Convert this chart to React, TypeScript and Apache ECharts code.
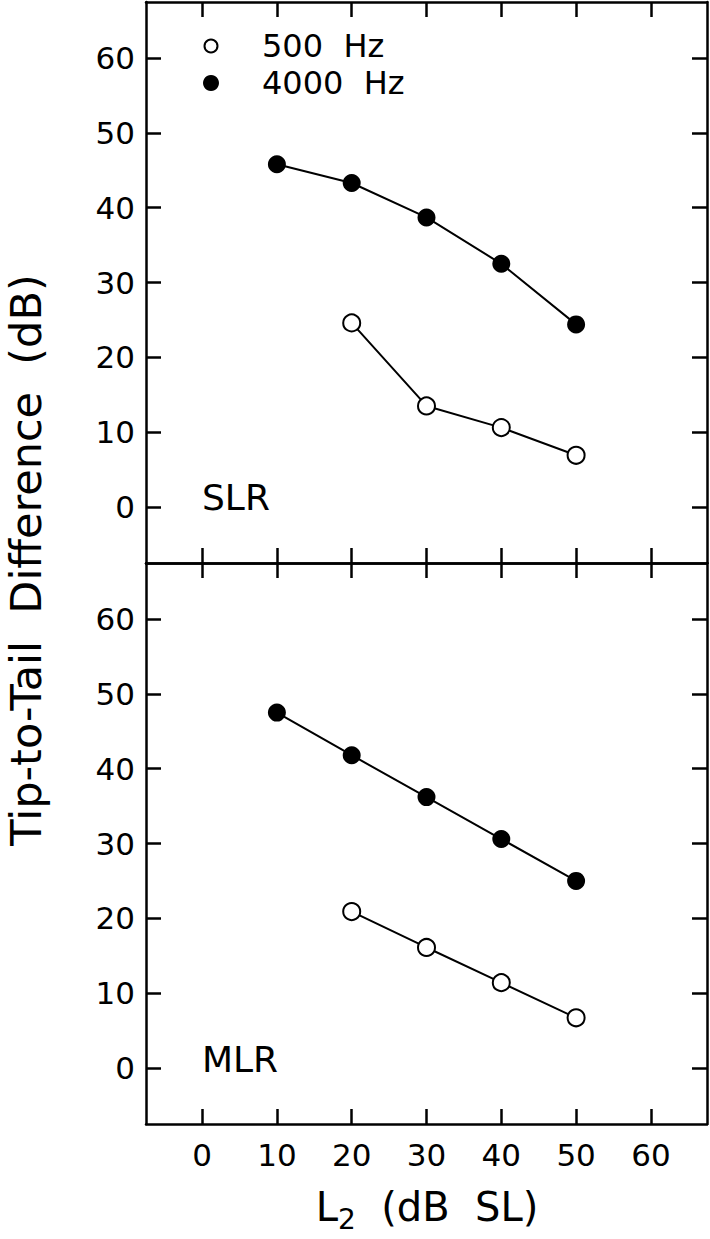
import React, { useEffect, useRef } from "react";
import * as echarts from "echarts";

const TICKS = [0, 10, 20, 30, 40, 50, 60];
const X_L2 = [10, 20, 30, 40, 50];
const X_L2_500 = [20, 30, 40, 50];
const SLR_4000 = [45.8, 43.3, 38.7, 32.5, 24.4];
const SLR_500 = [24.6, 13.5, 10.6, 6.9];
const MLR_4000 = [47.5, 41.8, 36.2, 30.6, 25.0];
const MLR_500 = [20.9, 16.1, 11.4, 6.7];
const PANEL_LABELS = ["SLR", "MLR"];
const LEGEND = ["500  Hz", "4000  Hz"];

const FONT = "DejaVu Sans";

function axis(position: string, gridIndex: number, showLabel: boolean) {
  return {
    type: "value",
    gridIndex,
    position,
    min: -7.5,
    max: 67.5,
    axisLine: { show: true, onZero: false, lineStyle: { color: "#000", width: 2.5 } },
    axisTick: {
      show: true,
      inside: true,
      length: 15,
      customValues: TICKS,
      lineStyle: { color: "#000", width: 2.5 },
    },
    axisLabel: {
      show: showLabel,
      customValues: TICKS,
      color: "#000",
      fontFamily: FONT,
      fontSize: 31,
      margin: position === "left" ? 11 : 15,
    },
    splitLine: { show: false },
  };
}

function pairs(xs: number[], ys: number[]) {
  return xs.map((x, i) => [x, ys[i]]);
}

function lineSeries(name: string, xi: number, yi: number, data: number[][], filled: boolean) {
  return {
    name,
    type: "line",
    xAxisIndex: xi,
    yAxisIndex: yi,
    data,
    symbol: "circle",
    symbolSize: filled ? 18 : 17,
    lineStyle: { color: "#000", width: 2 },
    itemStyle: filled
      ? { color: "#000", borderColor: "#000", borderWidth: 0 }
      : { color: "#fff", borderColor: "#000", borderWidth: 2 },
    z: 3,
  };
}

export default function App() {
  const ref = useRef<HTMLDivElement>(null);
  useEffect(() => {
    if (!ref.current) return;
    const chart = echarts.init(ref.current, undefined, { renderer: "svg" });
    chart.setOption({
      animation: false,
      backgroundColor: "#fff",
      grid: [
        { left: 146, top: 2, width: 561, height: 561 },
        { left: 146, top: 563, width: 561, height: 561 },
      ],
      xAxis: [
        axis("bottom", 0, false),
        axis("top", 0, false),
        axis("bottom", 1, true),
        axis("top", 1, false),
      ],
      yAxis: [
        axis("left", 0, true),
        axis("right", 0, false),
        axis("left", 1, true),
        axis("right", 1, false),
      ],
      series: [
        lineSeries("4000 Hz", 0, 0, pairs(X_L2, SLR_4000), true),
        lineSeries("500 Hz", 0, 0, pairs(X_L2_500, SLR_500), false),
        lineSeries("4000 Hz", 2, 2, pairs(X_L2, MLR_4000), true),
        lineSeries("500 Hz", 2, 2, pairs(X_L2_500, MLR_500), false),
      ],
      graphic: [
        { type: "circle", shape: { cx: 211, cy: 46, r: 6.5 }, style: { fill: "#fff", stroke: "#000", lineWidth: 2 } },
        { type: "circle", shape: { cx: 211, cy: 83, r: 8 }, style: { fill: "#000" } },
        {
          type: "text",
          x: 262,
          y: 46,
          style: { text: LEGEND[0], font: `32px "${FONT}"`, fill: "#000", verticalAlign: "middle" },
        },
        {
          type: "text",
          x: 262,
          y: 83,
          style: { text: LEGEND[1], font: `32px "${FONT}"`, fill: "#000", verticalAlign: "middle" },
        },
        {
          type: "text",
          x: 202,
          y: 497,
          style: { text: PANEL_LABELS[0], font: `36px "${FONT}"`, fill: "#000", verticalAlign: "middle" },
        },
        {
          type: "text",
          x: 202,
          y: 1059,
          style: { text: PANEL_LABELS[1], font: `36px "${FONT}"`, fill: "#000", verticalAlign: "middle" },
        },
        {
          type: "text",
          x: 26,
          y: 560,
          rotation: Math.PI / 2,
          style: {
            text: "Tip-to-Tail  Difference  (dB)",
            font: `43px "${FONT}"`,
            fill: "#000",
            align: "center",
            verticalAlign: "middle",
          },
        },
        {
          type: "text",
          x: 427,
          y: 1207,
          style: {
            text: "{a|L}{s|2}{a|  (dB  SL)}",
            align: "center",
            verticalAlign: "middle",
            rich: {
              a: { font: `40px "${FONT}"`, fill: "#000", verticalAlign: "bottom", height: 46 },
              s: { font: `28px "${FONT}"`, fill: "#000", verticalAlign: "bottom", padding: [0, 0, -12, 0], height: 46 },
            },
          },
        },
      ],
    });
    return () => chart.dispose();
  }, []);
  return (
    <div
      ref={ref}
      style={{ position: "absolute", left: 0, top: 0, width: 710, height: 1239, background: "#fff" }}
    />
  );
}
